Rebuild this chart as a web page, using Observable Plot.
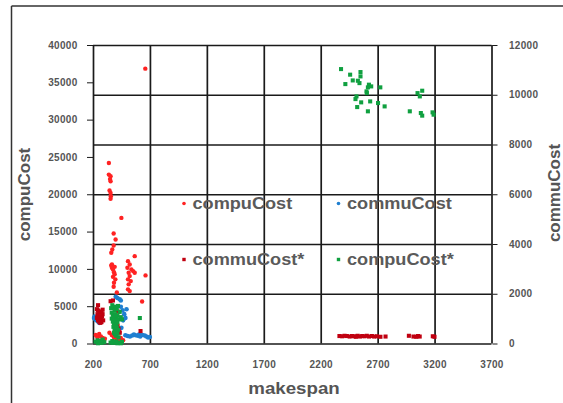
<!DOCTYPE html>
<html>
<head>
<meta charset="utf-8">
<script src="https://cdn.jsdelivr.net/npm/d3@7"></script>
<script src="https://cdn.jsdelivr.net/npm/@observablehq/plot@0.6"></script>
<style>
  html, body { margin: 0; padding: 0; background: #fff; }
  #chart { width: 563px; height: 403px; }
</style>
</head>
<body>
<div id="chart"></div>
<script>
// ---- axes ----
const makespanTicks = [200, 700, 1200, 1700, 2200, 2700, 3200, 3700];
const compuTicks = [0, 5000, 10000, 15000, 20000, 25000, 30000, 35000, 40000];
const commuTicks = [0, 2000, 4000, 6000, 8000, 10000, 12000];

// ---- series: [makespan, value] ----
// compuCost (left axis)
const compuCost = [
  [655, 36900],
  [335, 24260], [335, 22700], [350, 22480], [345, 22100], [350, 21800], [341, 20560], [350, 20240], [352, 19800], [350, 19450],
  [445, 16900],
  [377, 14810], [394, 14010], [377, 13200], [365, 12670], [356, 12220],
  [362, 10660], [356, 10530], [386, 10340], [362, 10210], [371, 9990], [380, 9630], [386, 9330], [371, 9000], [392, 8660], [380, 8200], [377, 7670],
  [562, 11770], [503, 11100], [518, 10660], [498, 10210], [533, 9990], [548, 9770], [562, 9540], [509, 9540], [518, 9100], [503, 8660], [527, 8430], [509, 7990], [503, 7320], [518, 7090],
  [657, 9190], [627, 5700],
  [220, 1200], [235, 900], [250, 1340], [265, 1000], [280, 800], [300, 700],
  [340, 1500], [360, 1200], [380, 900], [400, 700], [420, 600], [440, 800], [460, 500],
  [390, 3000], [410, 2600], [420, 2200], [400, 1800], [430, 1600], [405, 6900]
];
// commuCost (right axis)
const commuCost = [
  [205, 1050], [215, 1000], [225, 950], [240, 900], [250, 850], [210, 1100],
  [395, 1900], [410, 1850], [430, 1800], [440, 1750],
  [440, 1500], [455, 1350], [470, 1200], [480, 1050], [460, 950], [490, 1400], [445, 650],
  [480, 350], [500, 320], [520, 300], [540, 340], [555, 380], [570, 350], [590, 330], [600, 380],
  [610, 300], [630, 360], [650, 340], [665, 300], [680, 260], [695, 280]
];
// commuCost* (right axis)
const commuCostStar = [
  [240, 1560],
  [230, 1400], [240, 1350], [250, 1300], [260, 1250], [270, 1300], [280, 1200], [235, 1200], [245, 1100], [255, 1050],
  [265, 1000], [275, 1100], [285, 950], [240, 950], [250, 900], [260, 850], [270, 880], [230, 1050], [280, 1380],
  [350, 1720], [371, 1750],
  [380, 900], [395, 800], [410, 700], [420, 600], [390, 500], [430, 450], [400, 1100], [415, 1300],
  [613, 520],
  [2360, 320], [2385, 310], [2405, 330], [2425, 320], [2450, 300], [2470, 320], [2490, 310], [2505, 290], [2520, 330],
  [2540, 300], [2560, 320], [2580, 310], [2600, 330], [2620, 300], [2645, 320], [2665, 300], [2690, 310], [2720, 290],
  [2765, 300], [2970, 330], [3010, 300], [3035, 290], [3050, 320], [3065, 300], [3180, 310], [3195, 290]
];
// compuCost* (left axis)
const compuCostStar = [
  [2374, 36840], [2454, 36090], [2477, 35320], [2545, 36440], [2545, 35860], [2536, 34960], [2522, 35280], [2412, 34830],
  [2619, 34750], [2639, 34520], [2610, 34390], [2719, 34390], [2598, 33850], [2601, 33620], [2510, 33180], [2501, 32820],
  [2551, 32380], [2516, 31750], [2630, 32510], [2699, 32290], [2757, 31840], [2610, 31180], [2978, 31180], [3046, 33620],
  [3087, 33940], [3066, 33180], [3075, 30950], [3087, 30600], [3178, 31040], [3187, 30730],
  [355, 4800], [365, 5200], [375, 4900], [385, 4500], [395, 5000], [405, 4700], [415, 5100], [430, 4300],
  [360, 4200], [370, 3900], [380, 3600], [390, 4000], [400, 3500], [410, 3800], [420, 3300],
  [360, 3400], [370, 3000], [380, 2700], [390, 3100], [400, 2600], [410, 2900],
  [375, 2300], [385, 2000], [395, 1700], [405, 2200], [415, 1900],
  [380, 1500], [390, 1300], [400, 1100], [410, 1400], [420, 900], [440, 3600], [450, 3300],
  [350, 200], [370, 150], [390, 250], [410, 100], [430, 200], [450, 300], [365, 400], [400, 350], [440, 100],
  [218, 300], [235, 500], [250, 200], [265, 400], [280, 600], [295, 250], [240, 100], [270, 150],
  [607, 3480]
];

const seriesNames = ["compuCost", "commuCost", "commuCost*", "compuCost*"];
const seriesColors = ["#ff2222", "#1f7fd0", "#c00010", "#10a040"];

// right axis values are drawn on the left scale
const k = 40000 / 12000;

const plot = Plot.plot({
  width: 563,
  height: 403,
  marginLeft: 93,
  marginRight: 71.5,
  marginTop: 45,
  marginBottom: 59.5,
  x: { domain: [200, 3700] },
  y: { domain: [0, 40000] },
  style: {
    fontFamily: "'Liberation Sans', Arial, sans-serif",
    fontSize: "10px",
    fontWeight: "bold",
    letterSpacing: "0.3px",
    background: "white",
    overflow: "visible"
  },
  marks: [
    Plot.gridX(makespanTicks, { stroke: "#1a1a1a", strokeOpacity: 1, strokeWidth: 1.7 }),
    Plot.gridY(commuTicks.map(d => d * k), { stroke: "#1a1a1a", strokeOpacity: 1, strokeWidth: 1.7 }),
    Plot.axisY(compuTicks, { anchor: "left", tickSize: 6, tickPadding: 10, stroke: "#1a1a1a", fill: "#555", label: null, tickFormat: d => String(d) }),
    Plot.axisY(commuTicks.map(d => d * k), { anchor: "right", tickSize: 5, tickPadding: 12, stroke: "#1a1a1a", fill: "#555", label: null, tickFormat: d => String(Math.round(d / k)) }),
    Plot.axisX(makespanTicks, { anchor: "bottom", tickSize: 0, tickPadding: 16.5, fill: "#555", label: null, tickFormat: d => String(d) }),
    Plot.dot(compuCost, { x: d => d[0], y: d => d[1], r: 2.2, fill: seriesColors[0] }),
    Plot.dot(commuCost, { x: d => d[0], y: d => d[1] * k, r: 2.3, fill: seriesColors[1] }),
    Plot.dot(commuCostStar, { x: d => d[0], y: d => d[1] * k, r: 2.3, symbol: "square", fill: seriesColors[2] }),
    Plot.dot(compuCostStar, { x: d => d[0], y: d => d[1], r: 2.3, symbol: "square", fill: seriesColors[3] })
  ]
});

document.getElementById("chart").appendChild(plot);

const svg = d3.select(plot);
// outer frame (left and top edges visible)
svg.append("line").attr("x1", 11.5).attr("y1", 6).attr("x2", 563).attr("y2", 6).attr("stroke", "#333").attr("stroke-width", 1.5);
svg.append("line").attr("x1", 11.5).attr("y1", 6).attr("x2", 11.5).attr("y2", 403).attr("stroke", "#333").attr("stroke-width", 1.5);

const titleStyle = t => t
  .attr("font-family", "'Liberation Sans', Arial, sans-serif")
  .attr("font-weight", "bold")
  .attr("font-size", 17)
  .attr("letter-spacing", 0)
  .attr("fill", "#555")
  .attr("text-anchor", "middle");

titleStyle(svg.append("text")).attr("transform", "translate(294,394) scale(1.1,1)").text("makespan");
titleStyle(svg.append("text")).attr("transform", "translate(30,194.5) rotate(-90)").text("compuCost");
titleStyle(svg.append("text")).attr("transform", "translate(560,193) rotate(-90)").text("commuCost");

// legend
const legendPos = [[184, 203.5], [338.5, 203.5], [184, 259.5], [338.5, 259.5]];
seriesNames.forEach((name, i) => {
  const [lx, ly] = legendPos[i];
  if (i < 2) {
    svg.append("circle").attr("cx", lx).attr("cy", ly).attr("r", 1.8).attr("fill", seriesColors[i]);
  } else {
    svg.append("rect").attr("x", lx - 1.7).attr("y", ly - 1.7).attr("width", 3.4).attr("height", 3.4).attr("fill", seriesColors[i]);
  }
  svg.append("text")
    .attr("transform", `translate(${lx + 8.5},${ly + 5.8}) scale(1.1,1)`)
    .attr("text-anchor", "start")
    .attr("font-family", "'Liberation Sans', Arial, sans-serif")
    .attr("font-weight", "bold")
    .attr("font-size", 16.5)
    .attr("letter-spacing", 0)
    .attr("fill", "#5a5a5a")
    .text(name);
});
</script>
</body>
</html>
